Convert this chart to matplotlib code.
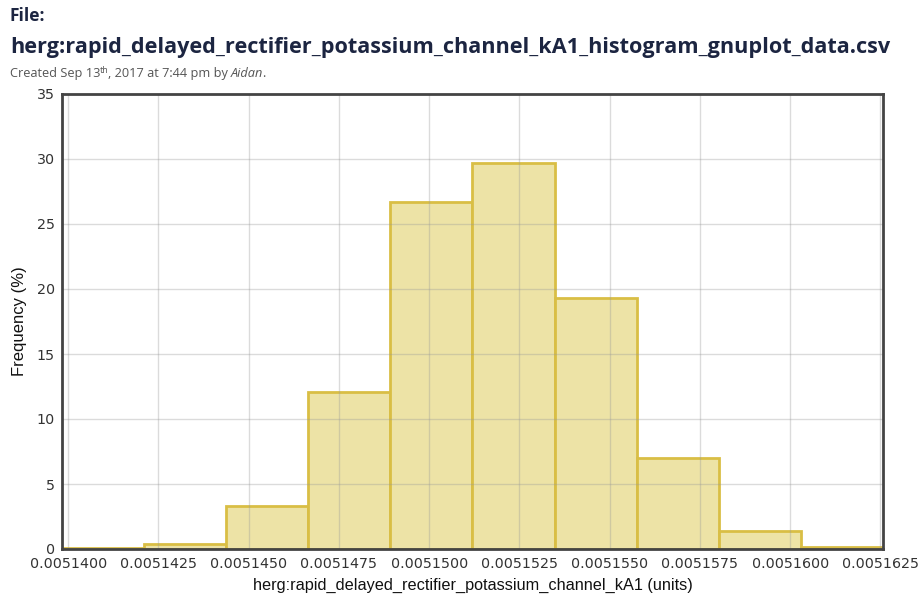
import numpy as np
import matplotlib
matplotlib.use('Agg')
import matplotlib.pyplot as plt

# histogram data (percent per bin)
bin_lo = 0.00513983
bin_hi = 0.00516257
freq = [0.1, 0.35, 3.3, 12.1, 26.7, 29.7, 19.3, 7.0, 1.35, 0.15]
xticks = [0.0051400, 0.0051425, 0.0051450, 0.0051475, 0.0051500,
          0.0051525, 0.0051550, 0.0051575, 0.0051600, 0.0051625]
yticks = [0, 5, 10, 15, 20, 25, 30, 35]

title = "herg:rapid_delayed_rectifier_potassium_channel_kA1_histogram_gnuplot_data.csv"
xlabel = "herg:rapid_delayed_rectifier_potassium_channel_kA1 (units)"
ylabel = "Frequency (%)"

W, H = 920, 598
fig = plt.figure(figsize=(W / 100, H / 100), dpi=100)
ax = fig.add_axes([62 / W, (H - 549) / H, (883 - 62) / W, (549 - 94) / H])

edges = np.linspace(bin_lo, bin_hi, len(freq) + 1)
ax.bar(edges[:-1], freq, width=np.diff(edges), align='edge',
       color='#ede3a6', edgecolor='#d9be45', linewidth=2, zorder=2)

ax.set_xlim(0.00513983, 0.00516257)
ax.set_ylim(0, 35)
ax.set_xticks(xticks)
ax.set_xticklabels(['%.7f' % t for t in xticks])
ax.set_yticks(yticks)
# grid shows through the bars in the original
ax.grid(True, color='#999999', alpha=0.35, linewidth=1, zorder=2.5)
ax.set_axisbelow(False)
ax.tick_params(length=0, labelsize=10.3, colors='#333333')
ax.tick_params(axis='x', pad=6)
ax.tick_params(axis='y', pad=5)
for s in ax.spines.values():
    s.set_linewidth(2)
    s.set_color('#444444')
    s.set_zorder(3)

ax.set_xlabel(xlabel, fontsize=11.7, family='Liberation Sans', color='#111111', labelpad=5)
ax.set_ylabel(ylabel, fontsize=12, family='Liberation Sans', color='#111111', labelpad=7)

# header
navy = '#1c2541'
fig.text(10 / W, 1 - 16 / H, "File:", fontsize=12.5, fontweight='bold', family='Open Sans',
         color=navy, va='center', ha='left')
fig.text(10 / W, 1 - 47 / H, title, fontsize=15.6, fontweight='bold', family='Open Sans',
         color=navy, va='center', ha='left')

# "Created Sep 13th, 2017 at 7:44 pm by Aidan." built piece by piece
renderer = fig.canvas.get_renderer()
pieces = [("Created Sep 13", {}, 0, 0.5), ("th", {'fontsize': 6.5}, 4, 0.5),
          (", 2017 at 7:44 pm by ", {}, 0, 0.5), ("Aidan", {'style': 'italic'}, 0, 1.0),
          (".", {}, 0, 0)]
x = 10
for txt, kw, dy, trim in pieces:
    props = dict(fontsize=9.2, family='Open Sans', color='#555555', va='baseline', ha='left')
    props.update(kw)
    t = fig.text(x / W, 1 - (77 - dy) / H, txt, **props)
    bb = t.get_window_extent(renderer)
    x += bb.width - trim

fig.savefig('out.png', dpi=100)
